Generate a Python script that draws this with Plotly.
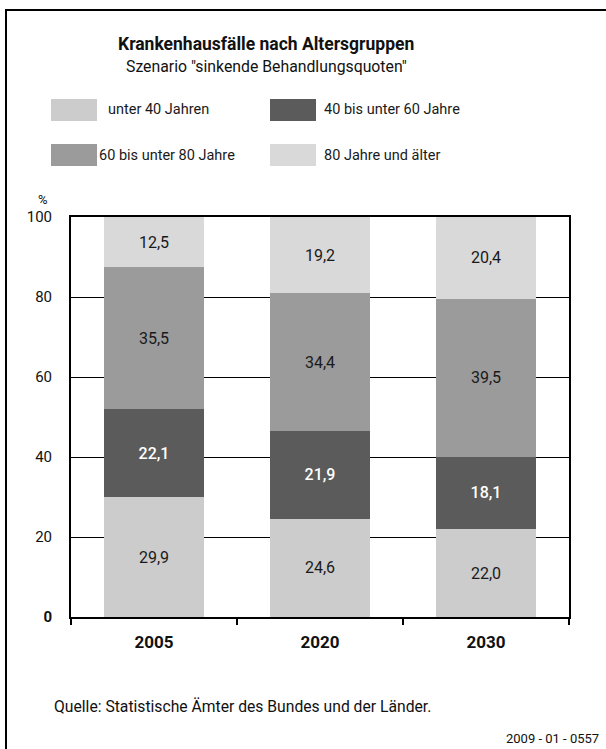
import plotly.graph_objects as go

years = ["2005", "2020", "2030"]
series_names = ["unter 40 Jahren", "40 bis unter 60 Jahre", "60 bis unter 80 Jahre", "80 Jahre und älter"]
under40 = [29.9, 24.6, 22.0]
age40_60 = [22.1, 21.9, 18.1]
age60_80 = [35.5, 34.4, 39.5]
age80plus = [12.5, 19.2, 20.4]
y_ticks = [0, 20, 40, 60, 80, 100]
y_ticktext = ["<b>0</b>", "20", "40", "60", "80", "100"]

colors = ["#cccccc", "#5b5b5b", "#9b9b9b", "#d9d9d9"]
text_colors = ["#1a1a1a", "#ffffff", "#1a1a1a", "#1a1a1a"]
values = [under40, age40_60, age60_80, age80plus]

W, H = 606, 749
L, R, T, B = 71, 569, 217, 617
FONT = "Roboto"

def px(x):
    return (x - L) / (R - L)

def py(y):
    return (B - y) / (B - T)

fig = go.Figure()
for name, vals, c, tc in zip(series_names, values, colors, text_colors):
    fig.add_trace(go.Bar(
        x=years, y=vals, name=name, marker=dict(color=c, line=dict(width=0)),
        texttemplate="%{y:.1f}", textposition="inside", insidetextanchor="middle",
        textangle=0,
        textfont=dict(family=FONT, size=16, color=tc,
                      weight=500 if tc == "#ffffff" else 400),
        showlegend=False,
    ))

shapes = []
annotations = []
# frame
shapes.append(dict(type="line", xref="paper", yref="paper", x0=px(6), x1=px(W + 5), y0=py(10), y1=py(10),
                   line=dict(color="black", width=2)))
shapes.append(dict(type="line", xref="paper", yref="paper", x0=px(6), x1=px(6), y0=py(9), y1=py(H + 5),
                   line=dict(color="black", width=2)))

# legend
leg_pos = [(51, 99, 106), (270, 99, 322), (51, 144, 97), (270, 144, 322)]
for (sx, sy, tx), name, c in zip(leg_pos, series_names, colors):
    shapes.append(dict(type="rect", xref="paper", yref="paper", x0=px(sx), x1=px(sx + 46),
                       y0=py(sy + 22), y1=py(sy), fillcolor=c, line=dict(width=0)))
    annotations.append(dict(xref="paper", yref="paper", x=px(tx), y=py(sy + 11), text=name,
                            showarrow=False, xanchor="left", yanchor="middle",
                            font=dict(family=FONT, size=14.5, color="#1a1a1a")))

annotations += [
    dict(xref="paper", yref="paper", x=px(266), y=py(44), text="<b>Krankenhausfälle nach Altersgruppen</b>",
         showarrow=False, xanchor="center", yanchor="middle", font=dict(family=FONT, size=17.5, color="#111111")),
    dict(xref="paper", yref="paper", x=px(266), y=py(66), text='Szenario "sinkende Behandlungsquoten"',
         showarrow=False, xanchor="center", yanchor="middle", font=dict(family=FONT, size=15.8, color="#111111")),
    dict(xref="paper", yref="paper", x=px(43), y=py(199), text="%",
         showarrow=False, xanchor="center", yanchor="middle", font=dict(family=FONT, size=13, color="#111111")),
    dict(xref="paper", yref="paper", x=px(52), y=py(706), text="Quelle: Statistische Ämter des Bundes und der Länder.",
         showarrow=False, xanchor="left", yanchor="middle", font=dict(family=FONT, size=15.7, color="#111111")),
    dict(xref="paper", yref="paper", x=px(601), y=py(738), text="2009 - 01 - 0557",
         showarrow=False, xanchor="right", yanchor="middle", font=dict(family=FONT, size=13, color="#111111")),
]

fig.update_layout(
    width=W, height=H, autosize=False,
    margin=dict(l=L, r=W - R, t=T, b=H - B, pad=0),
    paper_bgcolor="white", plot_bgcolor="white",
    barmode="stack", bargap=0.4,
    separators=",.",
    shapes=shapes, annotations=annotations,
    font=dict(family=FONT, color="#111111"),
    uniformtext=dict(minsize=8, mode="show"),
)
fig.update_xaxes(
    type="category", showline=True, linecolor="black", linewidth=2, mirror=True,
    ticks="outside", tickson="boundaries", ticklen=6, tickwidth=1.5, tickcolor="black",
    tickfont=dict(family=FONT, size=17, color="#111111", weight="bold"),
    ticklabelstandoff=9, showgrid=False,
)
fig.update_yaxes(
    range=[0, 100], tickvals=y_ticks, ticktext=y_ticktext,
    showline=True, linecolor="black", linewidth=2, mirror=True,
    showgrid=True, gridcolor="black", gridwidth=1, zeroline=False,
    ticks="", tickfont=dict(family=FONT, size=15, color="#111111"),
    ticklabelstandoff=14,
)

fig.write_html("out.html")
